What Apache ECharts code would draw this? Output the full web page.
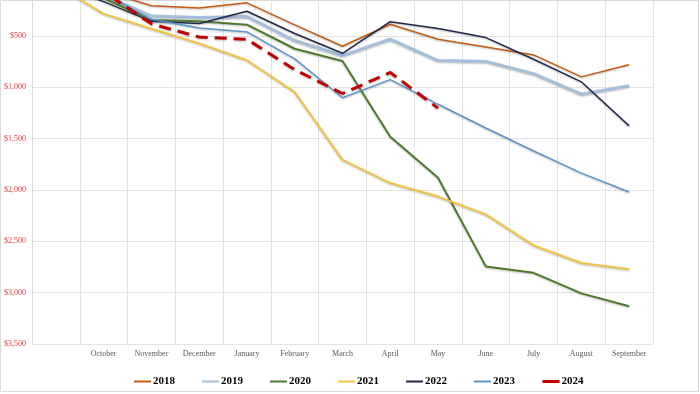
<!DOCTYPE html>
<html>
<head>
<meta charset="utf-8">
<script src="https://cdn.jsdelivr.net/npm/echarts@6/dist/echarts.min.js"></script>
<style>
html,body{margin:0;padding:0;background:#fff;}
#c{width:700px;height:394px;}
</style>
</head>
<body>
<div id="c"></div>
<script>
var months = ['', 'October', 'November', 'December', 'January', 'February', 'March', 'April', 'May', 'June', 'July', 'August', 'September'];
var yTicks = [0, 500, 1000, 1500, 2000, 2500, 3000, 3500];
var fy2018 = [0, 63, 205, 227, 177, 391, 600, 385, 532, 607, 684, 898, 779];
var fy2019 = [0, 100, 305, 319, 310, 544, 691, 531, 739, 747, 867, 1067, 984];
var fy2020 = [0, 134, 343, 357, 389, 624, 743, 1481, 1880, 2744, 2807, 3007, 3132];
var fy2021 = [0, 284, 429, 573, 736, 1047, 1706, 1932, 2064, 2238, 2540, 2711, 2772];
var fy2022 = [0, 165, 357, 378, 259, 475, 668, 360, 426, 515, 726, 946, 1375];
var fy2023 = [0, 88, 337, 421, 460, 723, 1101, 925, 1165, 1396, 1620, 1835, 2020];
var fy2024 = [0, 67, 381, 510, 532, 828, 1060, 855, 1202];

var chart = echarts.init(document.getElementById('c'));
var sh = {shadowBlur: 2, shadowColor: 'rgba(0,0,0,0.25)', shadowOffsetY: 1};
function mk(name, data, color, width, extra) {
  var ls = Object.assign({color: color, width: width, type: 'solid'}, sh, extra || {});
  return {name: name, type: 'line', data: data, symbol: 'none', lineStyle: ls, itemStyle: {color: color}, animation: false};
}
chart.setOption({
  animation: false,
  grid: {left: 32, right: 47, top: -15.3, bottom: 50, outerBoundsMode: 'none', containLabel: false},
  xAxis: {
    type: 'category', data: months, boundaryGap: true,
    axisLine: {show: true, lineStyle: {color: '#d9d9d9', width: 1}},
    axisTick: {show: false},
    splitLine: {show: true, interval: 0, lineStyle: {color: '#e3e3e3', width: 1}},
    axisLabel: {interval: 0, color: '#595959', fontFamily: 'Liberation Serif', fontSize: 8, margin: 6}
  },
  yAxis: {
    type: 'value', inverse: true, min: 0, max: 3500, interval: 500,
    axisLine: {show: true, lineStyle: {color: '#d9d9d9'}},
    axisTick: {show: false},
    splitLine: {show: true, lineStyle: {color: '#e3e3e3', width: 1}},
    axisLabel: {color: '#e0393e', fontFamily: 'Liberation Serif', fontSize: 8, margin: 6,
      formatter: function (v) { return '$' + v.toLocaleString('en-US'); }}
  },
  legend: {
    left: 128, top: 371, itemWidth: 17, itemHeight: 10, itemGap: 26,
    itemStyle: {opacity: 0},
    textStyle: {fontFamily: 'Liberation Serif', fontWeight: 'bold', fontSize: 11, color: '#000', padding: [0, 0, 0, -3]},
    data: [
      {name: '2018'}, {name: '2019'}, {name: '2020'}, {name: '2021'}, {name: '2022'}, {name: '2023'},
      {name: '2024', lineStyle: {type: 'solid', width: 3}}
    ]
  },
  graphic: [{type: 'rect', shape: {x: 0.5, y: 0.5, width: 698, height: 391}, style: {fill: 'none', stroke: '#d9d9d9', lineWidth: 1}, silent: true}],
  series: [
    mk('2018', fy2018, '#c55a11', 1.5),
    mk('2019', fy2019, '#a5bfdb', 3),
    mk('2020', fy2020, '#4f7a2e', 2),
    mk('2021', fy2021, '#f2c246', 2),
    mk('2022', fy2022, '#1f2a4a', 1.5),
    mk('2023', fy2023, '#5b93cc', 1.5),
    mk('2024', fy2024, '#c00000', 3, {type: [12, 7]})
  ]
});
</script>
</body>
</html>
